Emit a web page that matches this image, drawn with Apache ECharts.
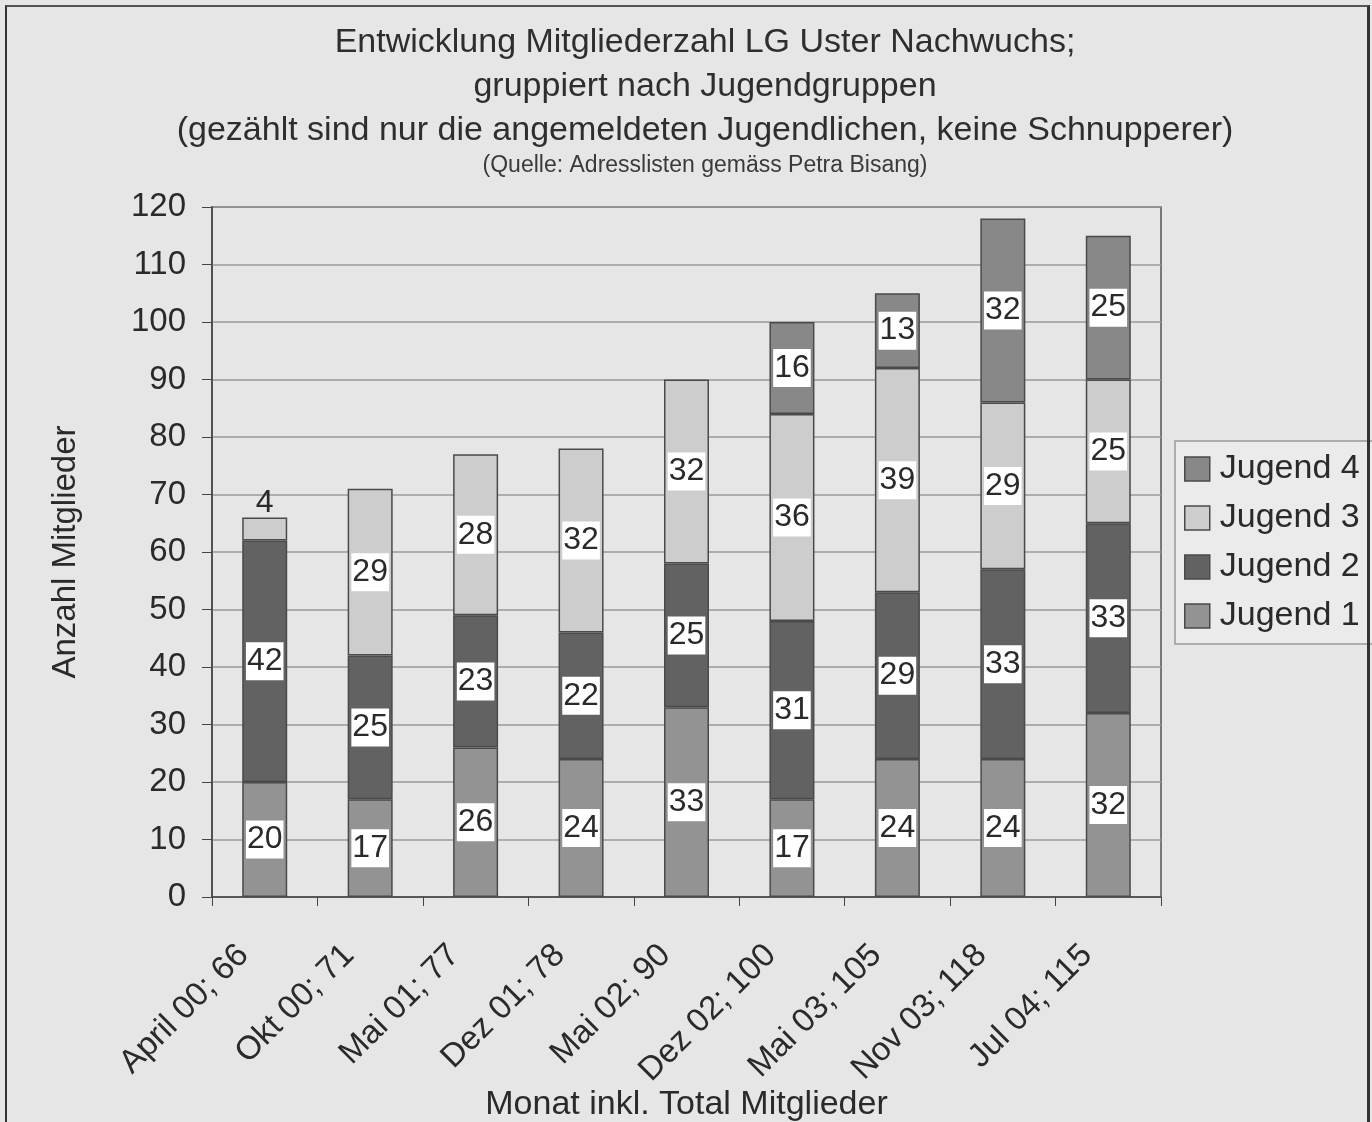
<!DOCTYPE html>
<html>
<head>
<meta charset="utf-8">
<script src="https://cdn.jsdelivr.net/npm/echarts@6/dist/echarts.min.js"></script>
<style>
html,body{margin:0;padding:0;background:#e6e6e6;}
#frame{position:absolute;left:5px;top:5px;width:1360px;height:1125px;border-left:2px solid #333;border-top:2px solid #555;border-right:3px solid #333;}
#chart{position:absolute;left:0;top:0;width:1372px;height:1122px;}
</style>
</head>
<body>
<div id="chart"></div>
<div id="frame"></div>
<script>
const categories = ["April 00; 66","Okt 00; 71","Mai 01; 77","Dez 01; 78","Mai 02; 90","Dez 02; 100","Mai 03; 105","Nov 03; 118","Jul 04; 115"];
const jugend1 = [20,17,26,24,33,17,24,24,32];
const jugend2 = [42,25,23,22,25,31,29,33,33];
const jugend3 = [4,29,28,32,32,36,39,29,25];
const jugend4 = [0,0,0,0,0,16,13,32,25];
const seriesNames = ["Jugend 1","Jugend 2","Jugend 3","Jugend 4"];
const yTicks = {min:0,max:120,interval:10};
const titleLines = ["Entwicklung Mitgliederzahl LG Uster Nachwuchs;","gruppiert nach Jugendgruppen","(gezählt sind nur die angemeldeten Jugendlichen, keine Schnupperer)"];
const subTitle = "(Quelle: Adresslisten gemäss Petra Bisang)";

const FONT = "Liberation Sans, Arial, sans-serif";
const colors = ["#939393","#626262","#cdcdcd","#888888"];
const dataSets = [jugend1,jugend2,jugend3,jugend4];

const chart = echarts.init(document.getElementById('chart'));
const series = dataSets.map((arr,si)=>({
  name: seriesNames[si],
  type:'bar',
  stack:'total',
  barWidth:45,
  itemStyle:{color:colors[si],borderColor:'#4a4a4a',borderWidth:1.5},
  label:{
    show:true,position:'inside',fontFamily:FONT,fontSize:32,color:'#2a2a2a',
    backgroundColor:'#ffffff',padding:[4,1,2,1]
  },
  data: arr.map((v,i)=>{
    if(v===0){
      return {value:v,itemStyle:{borderWidth:0},label:{show:false}};
    }
    if(si===2 && v<8){
      return {value:v,label:{position:'top',distance:-4,backgroundColor:'transparent'}};
    }
    return v;
  })
}));

const titleCX = 705;
const graphicTexts = titleLines.map((t,i)=>({
  type:'text',x:titleCX,y:43+i*44,silent:true,
  style:{text:t,fill:'#2e2e2e',font:'34px '+FONT,textAlign:'center',textVerticalAlign:'middle'}
}));
graphicTexts.push({
  type:'text',x:titleCX,y:166,silent:true,
  style:{text:subTitle,fill:'#3a3a3a',font:'23px '+FONT,textAlign:'center',textVerticalAlign:'middle'}
});

chart.setOption({
  backgroundColor:'#e6e6e6',
  animation:false,
  textStyle:{fontFamily:FONT},
  graphic:graphicTexts,
  legend:{
    data:["Jugend 4","Jugend 3","Jugend 2","Jugend 1"],
    orient:'vertical',left:1175,top:441,
    itemWidth:25,itemHeight:24,itemGap:15,
    padding:[11,14,11,9],
    borderColor:'#999',borderWidth:1.5,backgroundColor:'#ebebeb',
    textStyle:{fontFamily:FONT,fontSize:34,color:'#2a2a2a',padding:[0,0,0,5]},
    icon:'rect',
    itemStyle:{borderColor:'#4a4a4a',borderWidth:1.5}
  },
  grid:{left:212,right:211,top:207,bottom:225,outerBoundsMode:'none',containLabel:false,show:true,borderColor:'#555',borderWidth:1.5,backgroundColor:'transparent'},
  xAxis:{
    type:'category',data:categories,
    axisLine:{lineStyle:{color:'#444',width:1.5}},
    axisTick:{show:true,length:9,lineStyle:{color:'#444'}},
    axisLabel:{rotate:45,fontFamily:FONT,fontSize:33,color:'#2a2a2a',margin:32,padding:[0,30,0,0]},
    name:'Monat inkl. Total Mitglieder',nameLocation:'middle',nameGap:191,nameMoveOverlap:false,
    nameTextStyle:{fontFamily:FONT,fontSize:34,color:'#2a2a2a'}
  },
  yAxis:{
    type:'value',min:yTicks.min,max:yTicks.max,interval:yTicks.interval,
    axisLine:{show:true,lineStyle:{color:'#444',width:1.5}},
    axisTick:{show:true,length:10,lineStyle:{color:'#444'}},
    splitLine:{lineStyle:{color:'#9a9a9a',width:1.5}},
    axisLabel:{fontFamily:FONT,fontSize:33,color:'#2a2a2a',margin:26},
    name:'Anzahl Mitglieder',nameLocation:'middle',nameGap:130,nameMoveOverlap:false,
    nameTextStyle:{fontFamily:FONT,fontSize:33,color:'#2a2a2a'}
  },
  series:series
});
</script>
</body>
</html>
